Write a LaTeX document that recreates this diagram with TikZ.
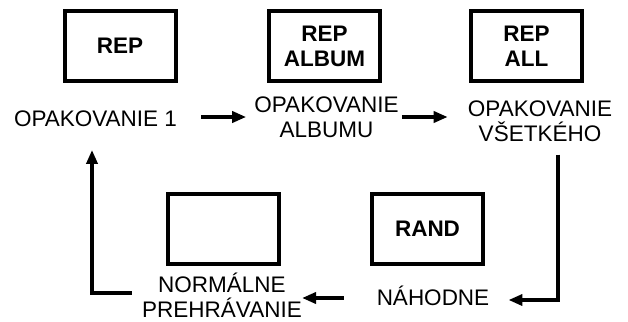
\documentclass[tikz,border=0pt]{standalone}
\usepackage{fontspec}
\setmainfont{Liberation Sans}
\usetikzlibrary{arrows.meta}

\begin{document}
\begin{tikzpicture}[x=1pt, y=-1pt,
  modebox/.style={draw, line width=4pt, minimum width=111pt, minimum height=70pt,
    inner sep=0pt, align=center, font=\fontsize{22.5}{25}\selectfont\bfseries},
  modelabel/.style={inner sep=0pt, align=center, font=\fontsize{22.5}{25}\selectfont},
  flow/.style={line width=4pt, -{Triangle[length=14pt,width=11pt]}}]
  \useasboundingbox (0,0) rectangle (628,321);
  % Display boxes
  \node[modebox] (boxrep) at (120,46) {REP};
  \node[modebox] (boxalbum) at (324.5,46) {REP\\ALBUM};
  \node[modebox] (boxall) at (526.5,46) {REP\\ALL};
  \node[modebox] (boxrand) at (427.5,228.5) {RAND};
  \node[modebox] (boxnorm) at (223.5,228.5) {};
  % Mode names
  \node[modelabel, anchor=base] (labone) at (95.5,126.5) {OPAKOVANIE 1};
  \node[modelabel] (labalbum) at (326.5,117.5) {OPAKOVANIE\\ALBUMU};
  \node[modelabel] (laball) at (540,121) {OPAKOVANIE\\VŠETKÉHO};
  \node[modelabel, anchor=base] (labrand) at (433,305) {NÁHODNE};
  \node[modelabel] (labnorm) at (222,295.5) {NORMÁLNE\\PREHRÁVANIE};
  % Corners of the loop
  \coordinate (rc) at (557.5,300);
  \coordinate (lc) at (92,293);
  % Arrows
  \draw[flow, shorten <=24pt, shorten >=8pt] (labone.east |- 0,117) -- (labalbum.west |- 0,117);
  \draw[flow, shorten <=3pt, shorten >=20pt] (labalbum.east |- 0,117) -- (laball.west |- 0,117);
  \draw[flow, shorten <=13pt, shorten >=19pt] (laball.south -| rc) -- (rc) -- (labrand.east |- rc);
  \draw[flow, shorten <=33pt] (labrand.west |- 0,298) -- (labnorm.east |- 0,298);
  \draw[flow, shorten <=10pt, shorten >=23pt] (labnorm.west |- lc) -- (lc) -- (labone.south -| lc);
\end{tikzpicture}
\end{document}
